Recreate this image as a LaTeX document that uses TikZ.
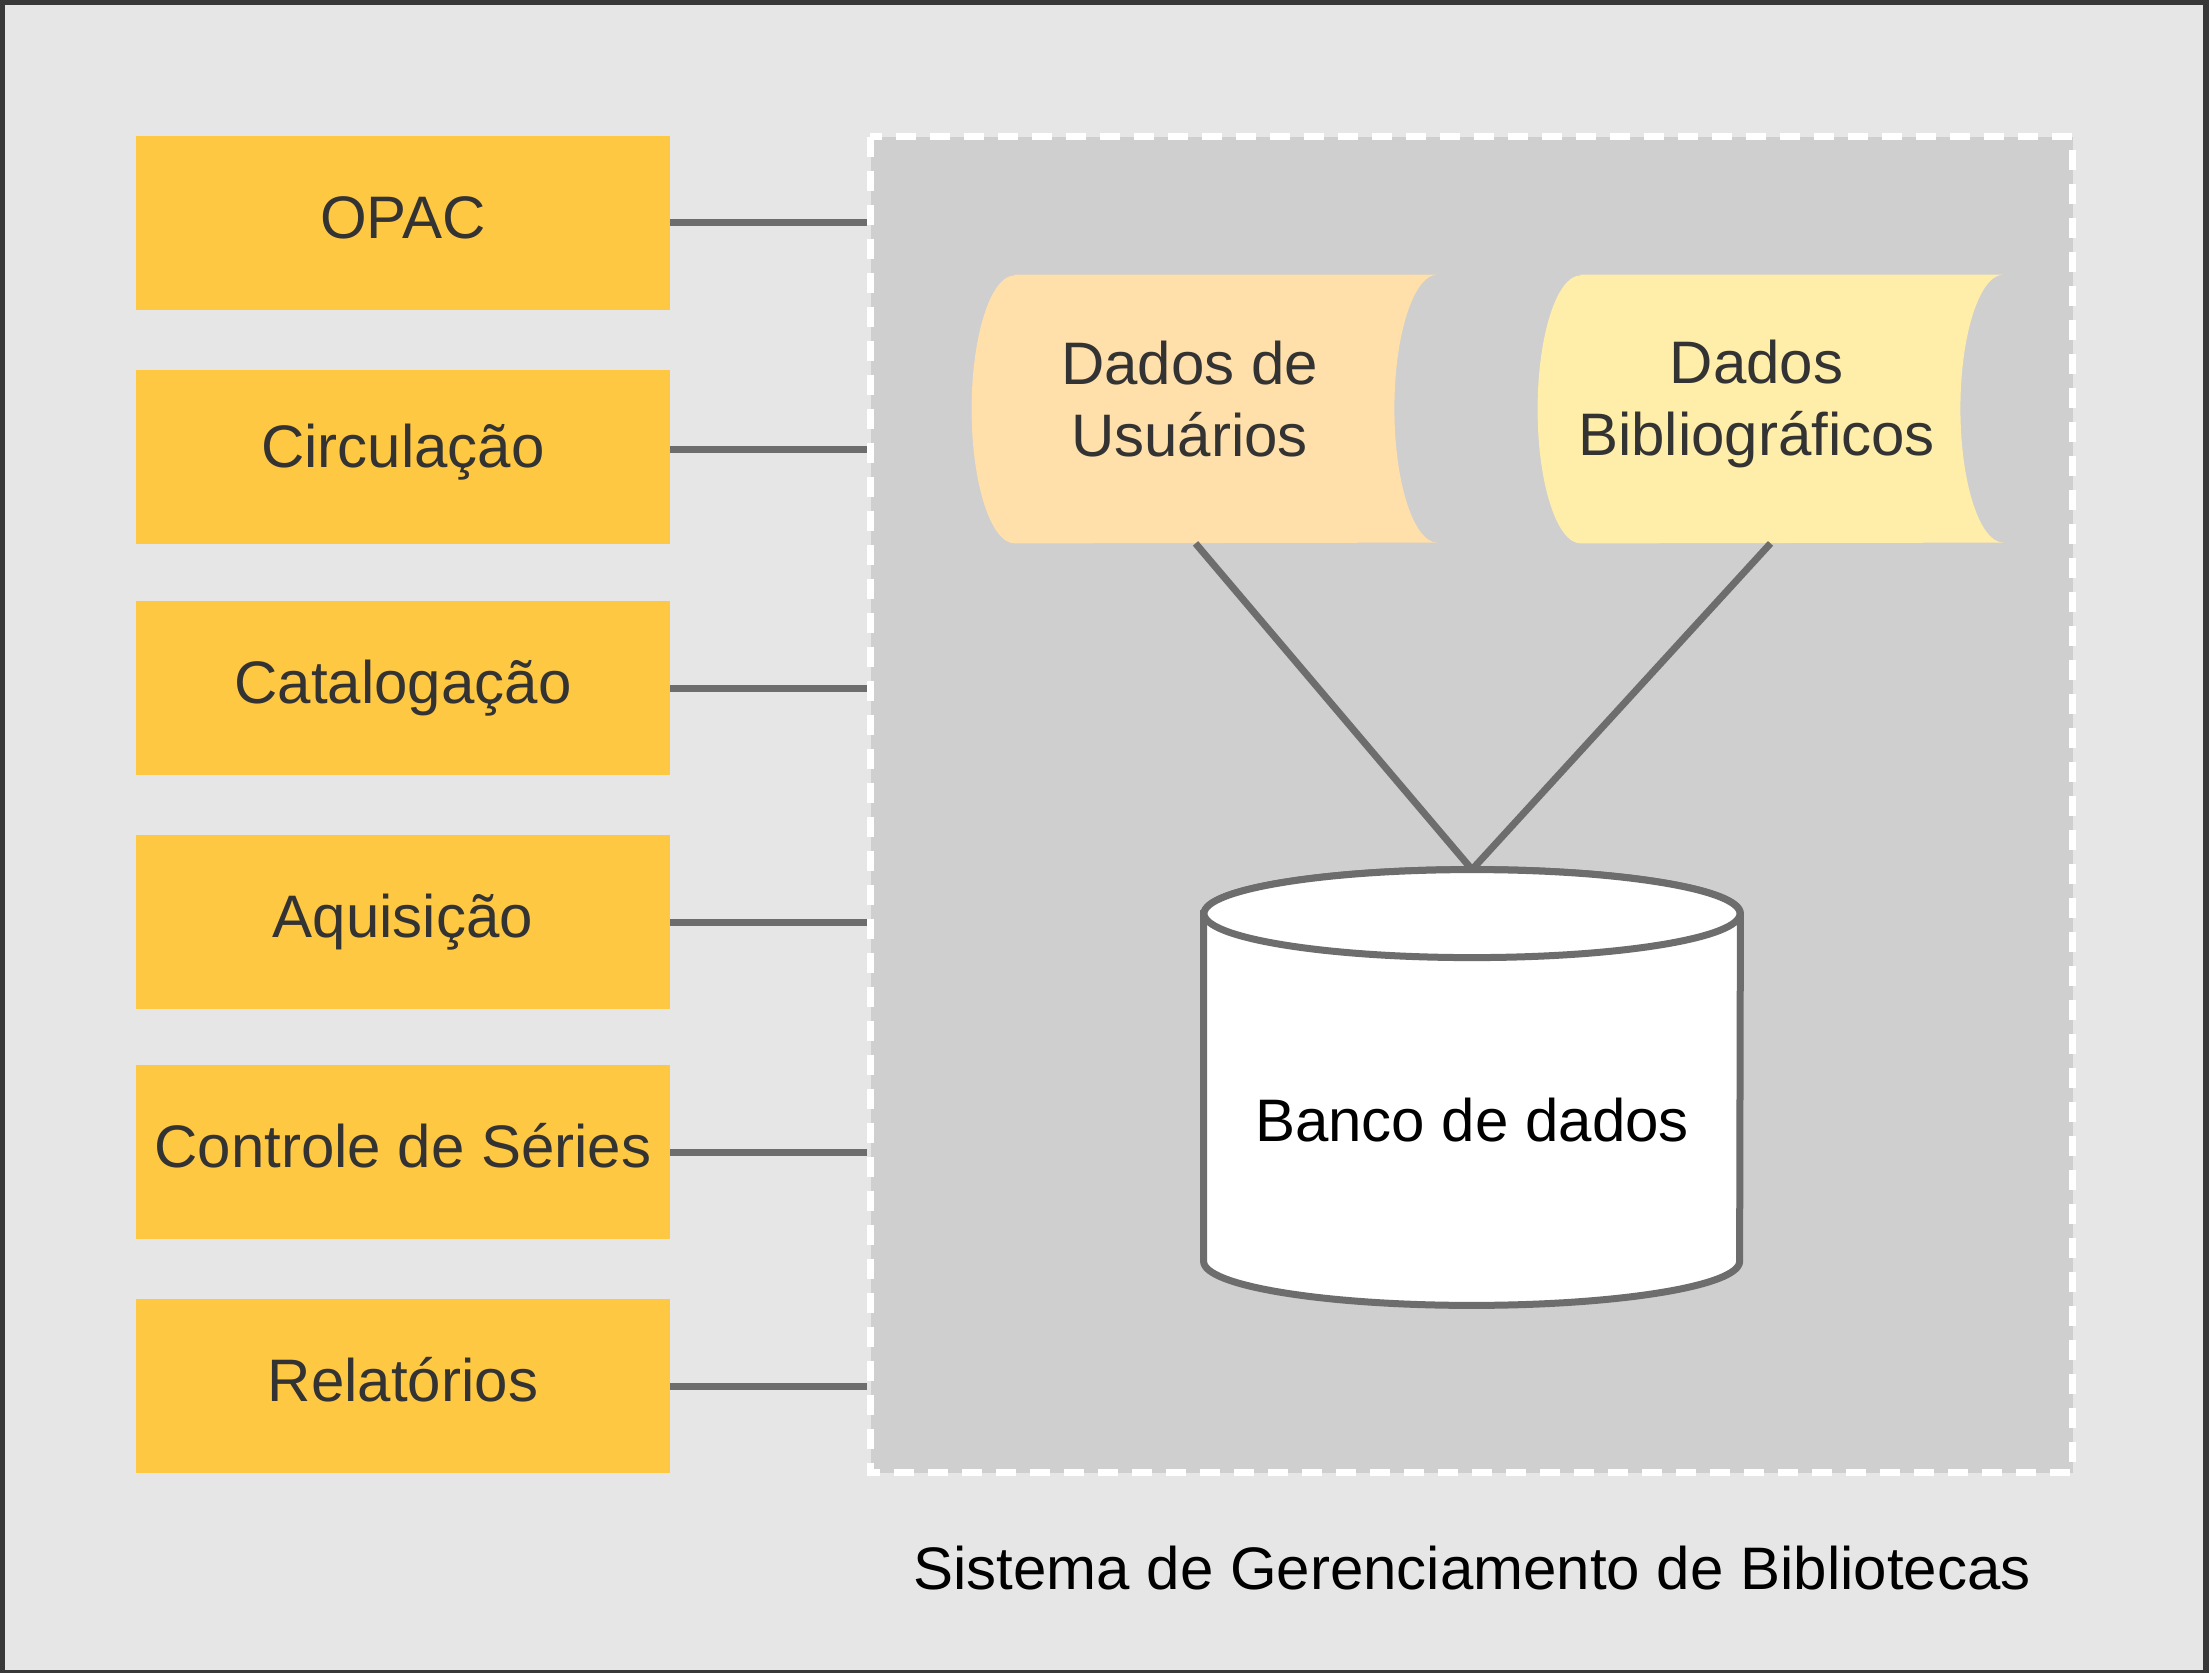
\documentclass[tikz,border=0pt]{standalone}
\usepackage{fontspec}
\setmainfont{Liberation Sans}
\usetikzlibrary{calc}
\definecolor{framec}{HTML}{383838}
\definecolor{bgc}{HTML}{E6E6E6}
\definecolor{contfill}{HTML}{CFCFCF}
\definecolor{boxfill}{HTML}{FEC843}
\definecolor{lc}{HTML}{6D6D6D}
\definecolor{txt}{HTML}{333333}
\definecolor{ufill}{HTML}{FFDFAA}
\definecolor{bfill}{HTML}{FFEDAA}
\begin{document}
\begin{tikzpicture}[x=0.5pt,y=-0.5pt,
  modbox/.style={rectangle, fill=boxfill, minimum width=267pt, minimum height=87pt, inner sep=0pt,
    text height=21pt, text depth=5.5pt,
    text=txt, font=\fontsize{30}{36}\selectfont},
  storeshape/.style={rectangle, minimum width=232.5pt, minimum height=134pt, inner sep=0pt},
  storetext/.style={inner sep=0pt, text=txt, align=center, font=\fontsize{30}{36}\selectfont},
  conn/.style={draw=lc, line width=3.5pt},
  contborder/.style={draw=white, line width=3.5pt, dash pattern=on 10pt off 7pt},
  dbline/.style={draw=lc, line width=3.5pt, fill=white}
]
\fill[framec] (0,0) rectangle (2209,1673);
\fill[bgc] (5,5) rectangle (2203,1670);
\useasboundingbox (0,0) rectangle (2209,1673);

% container
\node[rectangle, fill=contfill, minimum width=601pt, minimum height=667.75pt, inner sep=0pt] (cont) at (1471.5,804.75) {};

% module boxes
\node[modbox] (b1) at (403,223) {OPAC};
\node[modbox] (b2) at (403,457) {};
\node[modbox] (b2t) at (403,452) [fill=none] {Circulação};
\node[modbox] (b3) at (403,688) {Catalogação};
\node[modbox] (b4) at (403,922) {Aquisição};
\node[modbox] (b5) at (403,1152) {Controle de Séries};
\node[modbox] (b6) at (403,1386) {Relatórios};

\foreach \b in {b1,b3,b4,b5,b6}
  \draw[conn, shorten >=1.75pt] (\b.east) -- (\b.east -| cont.west);
\draw[conn, shorten >=1.75pt] ($(b2.east)+(0,-7)$) -- ($(b2.east -| cont.west)+(0,-7)$);

\draw[contborder] (cont.north west) rectangle (cont.south east);

% stored data shapes
\node[storeshape] (du) at (1204.5,409) {};
\fill[ufill] ([xshift=21.5pt]du.north west) -- (du.north east)
  arc[start angle=90, end angle=270, x radius=21.5pt, y radius=67pt]
  -- ([xshift=21.5pt]du.south west)
  arc[start angle=270, end angle=90, x radius=21.5pt, y radius=67pt] -- cycle;
\node[storetext] (dut) at ($(du.center)+(-15,-10)$) {Dados de\\Usuários};

\node[storeshape] (dbib) at (1770.5,409) {};
\fill[bfill] ([xshift=21.5pt]dbib.north west) -- (dbib.north east)
  arc[start angle=90, end angle=270, x radius=21.5pt, y radius=67pt]
  -- ([xshift=21.5pt]dbib.south west)
  arc[start angle=270, end angle=90, x radius=21.5pt, y radius=67pt] -- cycle;
\node[storetext] (dbibt) at ($(dbib.center)+(-14,-5)$) {Dados\\Bibliográficos};

% database cylinder
\node[rectangle, minimum width=268pt, minimum height=217.5pt, inner sep=0pt] (db) at (1472,1087.5) {};
\draw[conn] ($(du.south)+(-9,0)$) -- (db.north);
\draw[conn] (dbib.south) -- (db.north);
\draw[dbline] ($(db.north west)+(0,44)$) -- ($(db.south west)+(0,-44)$)
  arc[start angle=180, end angle=360, x radius=134pt, y radius=22pt]
  -- ($(db.north east)+(0,44)$)
  arc[start angle=0, end angle=180, x radius=134pt, y radius=22pt] -- cycle;
\draw[dbline] ($(db.north)+(0,44)$) ellipse[x radius=134pt, y radius=22pt];
\node[font=\fontsize{30}{36}\selectfont, text=black] (dbt) at ($(db.center)+(0,33)$) {Banco de dados};

% title
\node[font=\fontsize{30}{36}\selectfont, text=black] (title) at (1472,1568) {Sistema de Gerenciamento de Bibliotecas};
\end{tikzpicture}
\end{document}
